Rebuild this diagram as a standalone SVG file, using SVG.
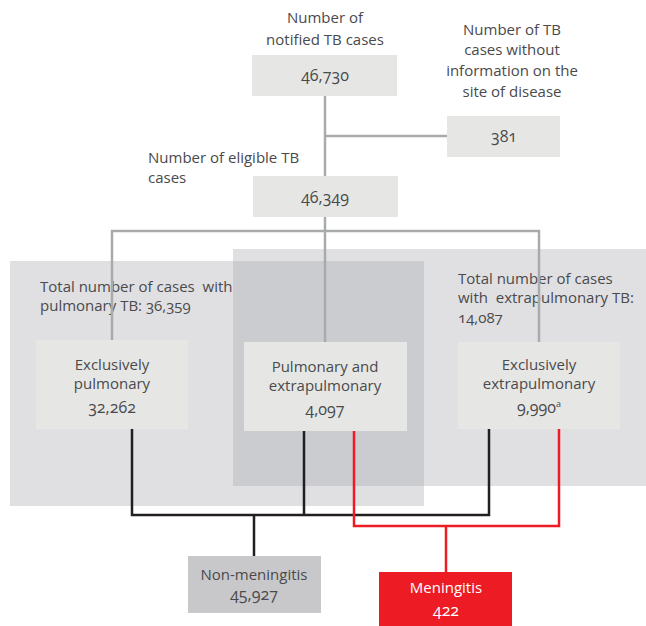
<svg xmlns="http://www.w3.org/2000/svg" width="646" height="626" viewBox="0 0 646 626">
<style>
text{font-family:"Open Sans","Noto Sans",sans-serif;font-size:15px;fill:#4a4a4c;font-variant-numeric:oldstyle-nums;}
.c{text-anchor:middle}
.n{font-size:16px}
.box{fill:#e6e7e5}
.g{stroke:#a8aaac;stroke-width:2.5;fill:none}
.k{stroke:#231f20;stroke-width:2.5;fill:none}
.r{stroke:#ed1c24;stroke-width:2.5;fill:none}
</style>
<g id="backgrounds">
<rect x="10" y="261" width="414" height="245" fill="#e0e0e2"/>
<rect x="233" y="249" width="413" height="237" fill="#e0e0e2"/>
<rect x="233" y="261" width="191" height="225" fill="#cbcccf"/>
<text x="40" y="292" xml:space="preserve">Total number of cases  with</text>
<text x="40" y="311">pulmonary TB: 36,359</text>
<text x="458" y="284">Total number of cases</text>
<text x="458" y="303" xml:space="preserve">with  extrapulmonary TB:</text>
<text x="458" y="323">14,087</text>
</g>
<g id="connectors">
<path class="g" d="M325 96V176M325 136H447M325 217V342M112 340V231H539V342"/>
<path class="k" d="M132 429V515H489V429M304 431V515M254 515V556"/>
<path class="r" d="M354 431V526H559V429M446 526V572"/>
</g>
<g id="notified">
<text class="c" x="325" y="23">Number of</text>
<text class="c" x="325" y="45">notified TB cases</text>
<rect class="box" x="252" y="55" width="145" height="41"/>
<text class="c n" x="325" y="81">46,730</text>
</g>
<g id="noinfo">
<text class="c" x="512" y="35">Number of TB</text>
<text class="c" x="512" y="55">cases without</text>
<text class="c" x="512" y="76">information on the</text>
<text class="c" x="512" y="97">site of disease</text>
<rect class="box" x="447" y="116" width="113" height="41"/>
<text class="c n" x="504" y="142">381</text>
</g>
<g id="eligible">
<text x="148" y="163">Number of eligible TB</text>
<text x="148" y="183">cases</text>
<rect class="box" x="253" y="176" width="145" height="41"/>
<text class="c n" x="325" y="203">46,349</text>
</g>
<g id="excl-pulm">
<rect class="box" x="36" y="340" width="152" height="89"/>
<text class="c" x="112" y="370">Exclusively</text>
<text class="c" x="112" y="389">pulmonary</text>
<text class="c n" x="112" y="413">32,262</text>
</g>
<g id="pulm-extra">
<rect class="box" x="244" y="342" width="163" height="89"/>
<text class="c" x="325" y="372">Pulmonary and</text>
<text class="c" x="325" y="391">extrapulmonary</text>
<text class="c n" x="325" y="415">4,097</text>
</g>
<g id="excl-extra">
<rect class="box" x="458" y="342" width="162" height="87"/>
<text class="c" x="539" y="370">Exclusively</text>
<text class="c" x="539" y="389">extrapulmonary</text>
<text class="c n" x="539" y="413">9,990<tspan font-size="9" dy="-6">a</tspan></text>
</g>
<g id="non-meningitis">
<rect x="188" y="556" width="133" height="57" fill="#c8c8ca"/>
<text class="c" x="254" y="580">Non-meningitis</text>
<text class="c n" x="254" y="600">45,927</text>
</g>
<g id="meningitis">
<rect x="379" y="572" width="133" height="54" fill="#ed1c24"/>
<text class="c" x="446" y="593" style="fill:#fff">Meningitis</text>
<text class="c n" x="446" y="616" style="fill:#fff">422</text>
</g>
</svg>
